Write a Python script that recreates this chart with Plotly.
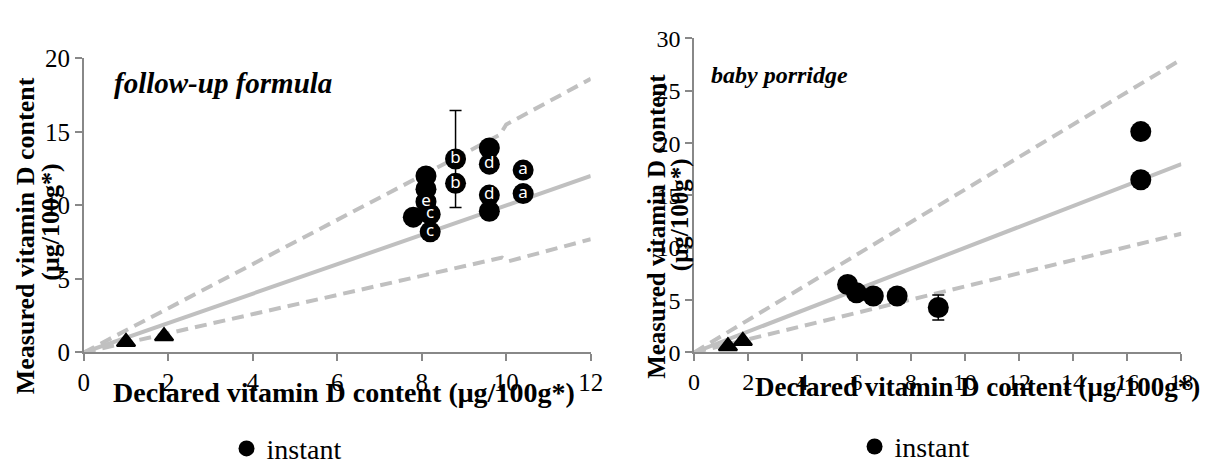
import plotly.graph_objects as go

# ---------------- data ----------------
# Left panel: follow-up formula
ff_x = [7.8, 8.1, 8.1, 8.1, 8.2, 8.2, 8.8, 8.8, 9.6, 9.6, 9.6, 9.6, 10.4, 10.4]
ff_y = [9.2, 12.0, 11.1, 10.25, 9.4, 8.2, 13.15, 11.5, 13.9, 12.8, 10.7, 9.6, 12.4, 10.8]
ff_lbl = ["", "", "", "e", "c", "c", "b", "b", "", "d", "d", "", "a", "a"]
ff_err = [0, 0, 0, 0, 0, 0, 3.3, 0, 0, 0, 0, 0, 0, 0]
ff_tri_x = [1.0, 1.9]
ff_tri_y = [0.72, 1.11]
ff_line_x = [0, 12]
ff_line_y = [0, 12]
ff_up_x = [0, 9.85, 10.0, 12]
ff_up_y = [0, 14.8, 15.5, 18.6]
ff_lo_x = [0, 9.9, 10.05, 12]
ff_lo_y = [0, 6.45, 6.2, 7.7]

# Right panel: baby porridge
bp_x = [5.67, 6.0, 6.62, 7.5, 9.02, 16.5, 16.5]
bp_y = [6.5, 5.7, 5.4, 5.4, 4.3, 21.1, 16.5]
bp_err = [0, 0, 0, 0, 1.2, 0, 0]
bp_tri_x = [1.25, 1.8]
bp_tri_y = [0.6, 1.1]
bp_line_x = [0, 18]
bp_line_y = [0, 18]
bp_up_x = [0, 18]
bp_up_y = [0, 28.0]
bp_lo_x = [0, 18]
bp_lo_y = [0, 11.35]

ff_xticks = [0, 2, 4, 6, 8, 10, 12]
ff_yticks = [0, 5, 10, 15, 20]
bp_xticks = [0, 2, 4, 6, 8, 10, 12, 14, 16, 18]
bp_yticks = [0, 5, 10, 15, 20, 25, 30]

GREY = "#C0C0C0"
SERIF = "Liberation Serif"

fig = go.Figure()

def add_panel(xa, ya, lx, ly, ux, uy, lox, loy, tx, ty, cx, cy, err, lbl, legend):
    fig.add_trace(go.Scatter(x=lx, y=ly, mode="lines", xaxis=xa, yaxis=ya,
                             line=dict(color=GREY, width=4), showlegend=False, hoverinfo="skip"))
    for X, Y in ((ux, uy), (lox, loy)):
        fig.add_trace(go.Scatter(x=X, y=Y, mode="lines", xaxis=xa, yaxis=ya,
                                 line=dict(color=GREY, width=4, dash="12px,7px"),
                                 showlegend=False, hoverinfo="skip"))
    fig.add_trace(go.Scatter(x=tx, y=ty, mode="markers", xaxis=xa, yaxis=ya,
                             marker=dict(symbol="triangle-up", size=16, color="black",
                                         line=dict(color="black", width=2)),
                             showlegend=False))
    fig.add_trace(go.Scatter(x=cx, y=cy, mode="markers+text" if lbl else "markers",
                             xaxis=xa, yaxis=ya, name="instant", legend=legend,
                             text=lbl, textposition="middle center",
                             textfont=dict(family="Noto Sans", size=17, color="white"),
                             marker=dict(symbol="circle", size=21, color="black"),
                             error_y=dict(type="data", array=err, visible=True,
                                          color="black", thickness=1.5, width=6),
                             showlegend=True))

add_panel("x", "y", ff_line_x, ff_line_y, ff_up_x, ff_up_y, ff_lo_x, ff_lo_y,
          ff_tri_x, ff_tri_y, ff_x, ff_y, ff_err, ff_lbl, "legend")
add_panel("x2", "y2", bp_line_x, bp_line_y, bp_up_x, bp_up_y, bp_lo_x, bp_lo_y,
          bp_tri_x, bp_tri_y, bp_x, bp_y, bp_err, None, "legend2")

W, H = 1219, 474
def px(xp): return xp / W
def py(yp): return 1 - yp / H

def axis_style(size):
    return dict(showgrid=False, zeroline=False, showline=True, linecolor="#888888",
                linewidth=1.5, ticks="outside", tickcolor="#888888", ticklen=7,
                tickwidth=1.5, tickfont=dict(family=SERIF, size=size, color="black"))

fig.update_layout(
    width=W, height=H, margin=dict(l=0, r=0, t=0, b=0),
    plot_bgcolor="white", paper_bgcolor="white",
    xaxis=dict(domain=[px(79), px(594)], range=[0, 12], tickvals=ff_xticks, anchor="y", **axis_style(25)),
    yaxis=dict(domain=[py(360), py(48)], range=[0, 20], tickvals=ff_yticks, anchor="x", **axis_style(25)),
    xaxis2=dict(domain=[px(699), px(1194)], range=[0, 18], tickvals=bp_xticks, anchor="y2", **axis_style(24)),
    yaxis2=dict(domain=[py(360), py(27)], range=[0, 30], tickvals=bp_yticks, anchor="x2", **axis_style(24)),
    legend=dict(x=px(224), y=py(462), xanchor="left", yanchor="middle", orientation="h",
                font=dict(family=SERIF, size=28, color="black"), bgcolor="rgba(0,0,0,0)"),
    legend2=dict(x=px(862), y=py(460), xanchor="left", yanchor="middle", orientation="h",
                 font=dict(family=SERIF, size=28, color="black"), bgcolor="rgba(0,0,0,0)"),
)

annots = [
    # x titles
    dict(text="<b>Declared vitamin D content (μg/100g*)</b>", x=px(343), y=py(402), size=28),
    dict(text="<b>Declared vitamin D content (μg/100g*)</b>", x=px(987), y=py(397), size=27),
    # y titles
    dict(text="<b>Measured vitamin D content</b>", x=px(20), y=py(236), textangle=-90, size=26),
    dict(text="<b>(μg/100g*)</b>", x=px(45), y=py(222), textangle=-90, size=26),
    dict(text="<b>Measured vitamin D content</b>", x=px(660), y=py(226), textangle=-90, size=25),
    dict(text="<b>(μg/100g*)</b>", x=px(684), y=py(214), textangle=-90, size=25),
]
for a in annots:
    size = a.pop("size")
    fig.add_annotation(xref="paper", yref="paper", showarrow=False,
                       font=dict(family=SERIF, size=size, color="black"),
                       xanchor="center", yanchor="middle", **a)

fig.add_annotation(xref="paper", yref="paper", showarrow=False, x=px(108), y=py(74),
                   xanchor="left", yanchor="middle", text="<b><i>follow-up formula</i></b>",
                   font=dict(family=SERIF, size=29, color="black"))
fig.add_annotation(xref="paper", yref="paper", showarrow=False, x=px(714), y=py(66),
                   xanchor="left", yanchor="middle", text="<b><i>baby porridge</i></b>",
                   font=dict(family=SERIF, size=24, color="black"))

fig.write_html("out.html")
